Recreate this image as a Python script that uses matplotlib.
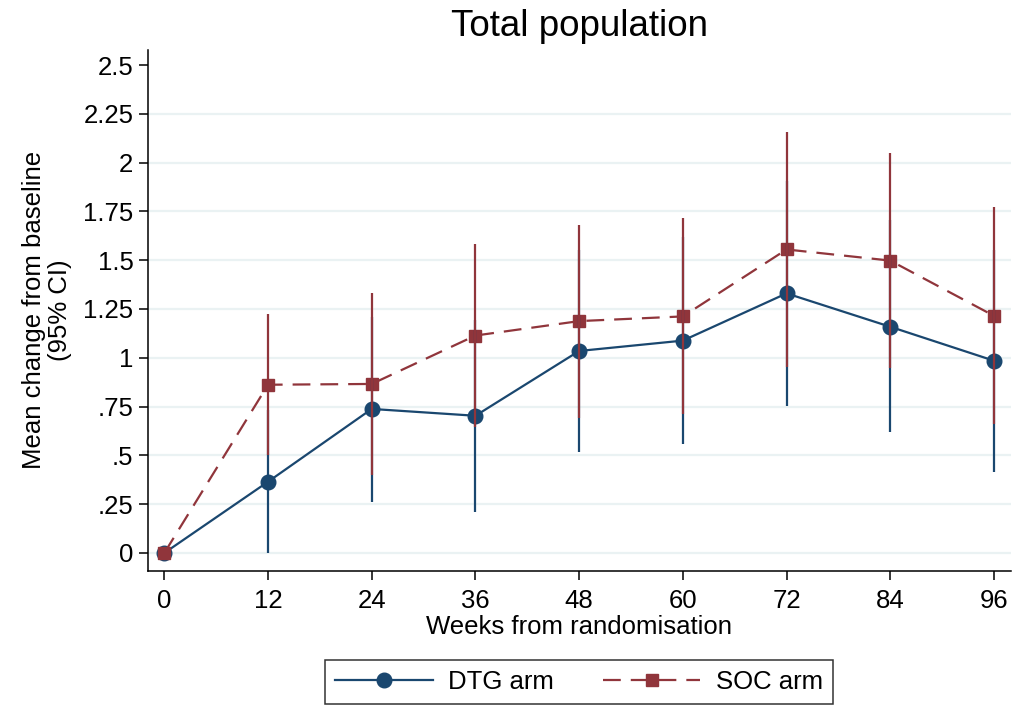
import matplotlib
matplotlib.use("Agg")
import matplotlib.pyplot as plt
from matplotlib.lines import Line2D

plt.rcParams['font.family'] = ['Liberation Sans', 'DejaVu Sans']

weeks = [0, 12, 24, 36, 48, 60, 72, 84, 96]

dtg_mean = [0, 0.365, 0.738, 0.703, 1.035, 1.088, 1.33, 1.159, 0.985]
dtg_lower = [0, 0.0, 0.263, 0.21, 0.516, 0.557, 0.753, 0.618, 0.417]
dtg_upper = [0, 0.73, 1.21, 1.195, 1.553, 1.62, 1.908, 1.705, 1.553]

soc_mean = [0, 0.862, 0.866, 1.114, 1.188, 1.212, 1.555, 1.498, 1.215]
soc_lower = [0, 0.50, 0.40, 0.647, 0.693, 0.71, 0.955, 0.949, 0.661]
soc_upper = [0, 1.222, 1.333, 1.583, 1.682, 1.714, 2.157, 2.05, 1.771]

yticks = [0, 0.25, 0.5, 0.75, 1, 1.25, 1.5, 1.75, 2, 2.25, 2.5]
ytick_labels = ['0', '.25', '.5', '.75', '1', '1.25', '1.5', '1.75', '2', '2.25', '2.5']

blue = '#1a476f'
red = '#90353b'
grid_col = '#eaf2f3'
fs = 18.5

fig = plt.figure(figsize=(10.13, 7.09), dpi=100)
ax = fig.add_axes([0.1461, 0.195, 0.998 - 0.1461, 0.9295 - 0.195])

for yv in yticks[:-1]:
    ax.axhline(yv, color=grid_col, lw=1.6, zorder=0)

ax.plot(weeks, dtg_mean, color=blue, lw=1.6, marker='o', ms=10.5, zorder=3)
ax.plot(weeks, soc_mean, color=red, lw=1.6, ls=(0, (8, 4.5)), marker='s', ms=9, zorder=3)
ax.vlines(weeks, dtg_lower, dtg_upper, color=blue, lw=1.6, zorder=4)
ax.vlines(weeks, soc_lower, soc_upper, color=red, lw=1.6, zorder=5)

ax.set_xlim(-1.89, 97.97)
ax.set_ylim(-0.091, 2.577)
ax.set_xticks(weeks)
ax.set_yticks(yticks)
ax.set_yticklabels(ytick_labels)
ax.tick_params(axis='both', direction='out', length=6.5, width=1.1, labelsize=fs, pad=4)
ax.tick_params(axis='x', pad=7)
for s in ['top', 'right']:
    ax.spines[s].set_visible(False)
for s in ['left', 'bottom']:
    ax.spines[s].set_linewidth(1.1)

ax.set_title('Total population', fontsize=26.5, pad=10)
ax.set_xlabel('Weeks from randomisation', fontsize=fs, labelpad=1)
ax.set_ylabel('Mean change from baseline\n(95% CI)', fontsize=fs, labelpad=8, linespacing=1.1)

handles = [
    Line2D([], [], color=blue, lw=1.6, marker='o', ms=10.5),
    Line2D([], [], color=red, lw=1.6, ls=(0, (8, 4.5)), marker='s', ms=9),
]
leg = fig.legend(handles, ['DTG arm', 'SOC arm'], loc='center', bbox_to_anchor=(579 / 1013, 1 - 682 / 709),
                 ncol=2, fontsize=fs, frameon=True, fancybox=False, edgecolor='black',
                 handlelength=3.8, columnspacing=1.9, borderpad=0.4, handletextpad=0.6)
leg.get_frame().set_linewidth(1.1)

fig.savefig('out.png', dpi=100)
